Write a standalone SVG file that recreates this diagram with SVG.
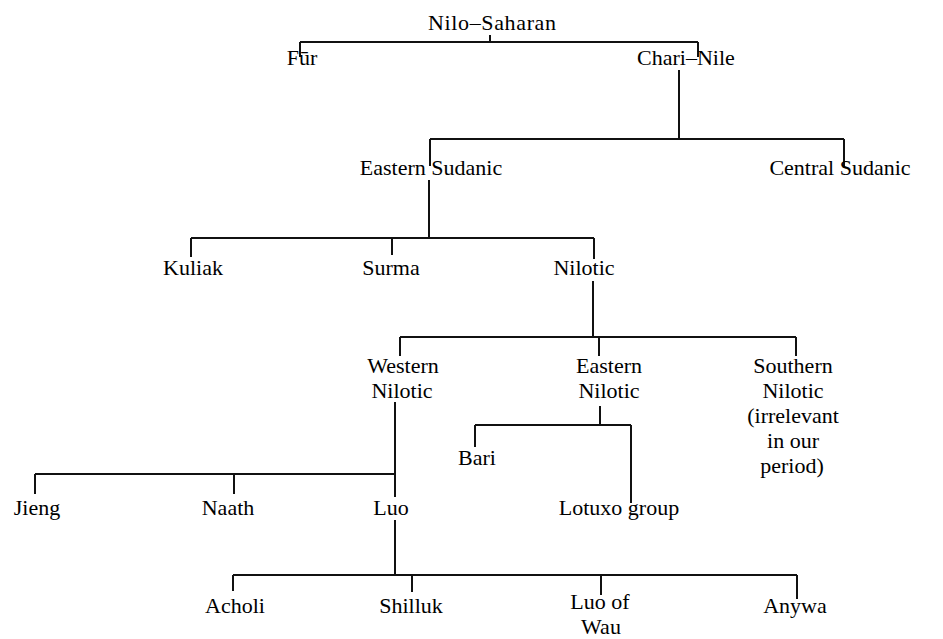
<svg xmlns="http://www.w3.org/2000/svg" width="943" height="639" viewBox="0 0 943 639">
<style>
text{font-family:"Liberation Serif","Times New Roman",serif;font-size:22px;fill:#000;text-anchor:middle}
.c{stroke:#111;stroke-width:2;fill:none}
</style>
<rect width="943" height="639" fill="#fff"/>
<g id="connectors" class="c">
<path d="M490 35V42M300 42H698M300 42V57M698 42V57"/>
<path d="M679 70V139M430 139H844M430 139V166M844 139V166"/>
<path d="M429 180V238M191 238H594M191 238V257M392 238V255M594 238V259"/>
<path d="M593 281V337M400 337H796M400 337V356M599 337V356M796 337V356"/>
<path d="M395 402V497M35 474H395M35 474V494M234 474V494"/>
<path d="M600 406V425M475 425H631M475 425V447M631 425V503"/>
<path d="M395 520V575M233 575H797M233 575V591M412 575V592M601 575V595M797 575V599"/>
</g>
<g id="nilo-saharan"><text x="492" y="30" textLength="128" lengthAdjust="spacing">Nilo–Saharan</text></g>
<g id="fur"><text x="302" y="65">Fūr</text></g>
<g id="chari-nile"><text x="686" y="65">Chari–Nile</text></g>
<g id="eastern-sudanic"><text x="431" y="175">Eastern Sudanic</text></g>
<g id="central-sudanic"><text x="840" y="175">Central Sudanic</text></g>
<g id="kuliak"><text x="193" y="275">Kuliak</text></g>
<g id="surma"><text x="391" y="275">Surma</text></g>
<g id="nilotic"><text x="584" y="275">Nilotic</text></g>
<g id="western-nilotic"><text x="403" y="373">Western</text><text x="402" y="398">Nilotic</text></g>
<g id="eastern-nilotic"><text x="609" y="373">Eastern</text><text x="609" y="398">Nilotic</text></g>
<g id="southern-nilotic"><text x="793" y="373">Southern</text><text x="793" y="398">Nilotic</text><text x="793" y="423">(irrelevant</text><text x="793" y="448">in our</text><text x="792" y="473">period)</text></g>
<g id="bari"><text x="477" y="465">Bari</text></g>
<g id="lotuxo"><text x="619" y="515">Lotuxo group</text></g>
<g id="jieng"><text x="37" y="515">Jieng</text></g>
<g id="naath"><text x="228" y="515">Naath</text></g>
<g id="luo"><text x="391" y="515">Luo</text></g>
<g id="acholi"><text x="235" y="613">Acholi</text></g>
<g id="shilluk"><text x="411" y="613">Shilluk</text></g>
<g id="luo-of-wau"><text x="600" y="609">Luo of</text><text x="601" y="634">Wau</text></g>
<g id="anywa"><text x="795" y="613">Anywa</text></g>
</svg>
